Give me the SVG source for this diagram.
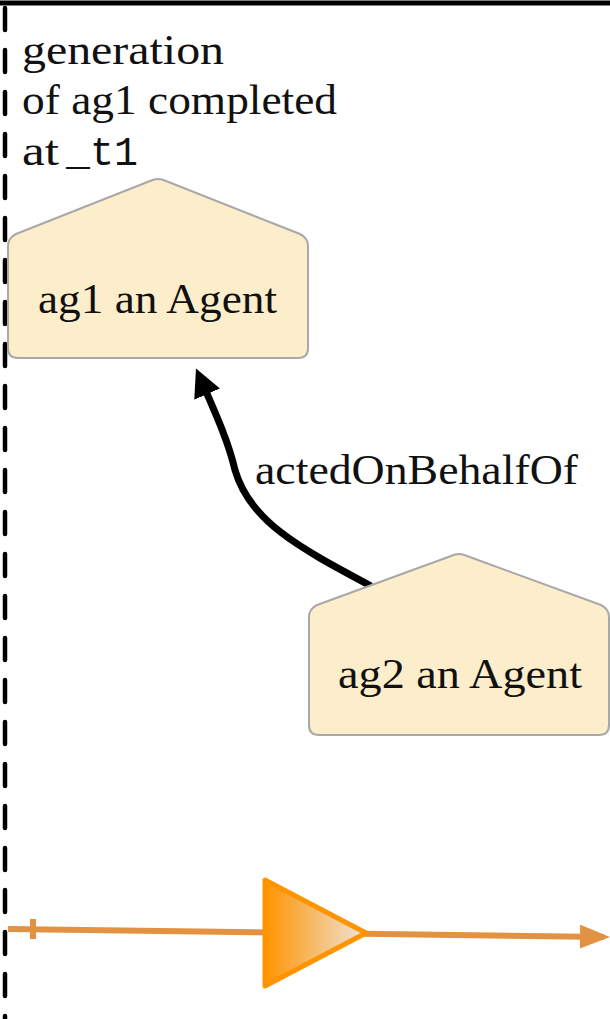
<svg xmlns="http://www.w3.org/2000/svg" width="610" height="1019" viewBox="0 0 610 1019">
<style>
.lbl{font-family:"Liberation Serif","DejaVu Serif",serif;font-size:42px;fill:#111}
.mono{font-family:"Liberation Mono","DejaVu Sans Mono",monospace;font-size:40px;fill:#111}
.agent{fill:#fdeecb;stroke:#a8a8a8;stroke-width:2;stroke-linejoin:round}
</style>
<defs>
<marker id="ah" markerWidth="4" markerHeight="4" refX="2.2" refY="2" orient="auto" markerUnits="strokeWidth" viewBox="0 0 4 4"><path d="M0,0 L4,2 L0,4 Z" fill="#000"/></marker>
<marker id="oh" markerWidth="5" markerHeight="4" refX="4" refY="2" orient="auto" markerUnits="strokeWidth" viewBox="0 0 5 4"><path d="M0,0 L5,2 L0,4 Z" fill="#e39142"/></marker>
<linearGradient id="tg" x1="0" y1="0" x2="1" y2="0"><stop offset="0" stop-color="#ff9400"/><stop offset="1" stop-color="#efe4da"/></linearGradient>
</defs>
<g id="frame">
<line x1="0" y1="3" x2="610" y2="3" stroke="#000" stroke-width="5"/>
<line x1="5" y1="8" x2="5" y2="1019" stroke="#000" stroke-width="4.5" stroke-dasharray="22,20" stroke-linecap="round"/>
</g>
<g id="note">
<text class="lbl" x="22" y="64" textLength="202" lengthAdjust="spacingAndGlyphs">generation</text>
<text class="lbl" x="22" y="114" textLength="315" lengthAdjust="spacingAndGlyphs">of ag1 completed</text>
<text class="lbl" x="22" y="165" textLength="37" lengthAdjust="spacingAndGlyphs">at</text>
<text class="mono" x="66" y="165">_t1</text>
</g>
<g id="connectors">
<path d="M371,586 C300,548 250,522 235,470 C228,440 214,410 201,380" fill="none" stroke="#000" stroke-width="7" marker-end="url(#ah)"/>
<text class="lbl" x="255" y="484" textLength="323" lengthAdjust="spacingAndGlyphs">actedOnBehalfOf</text>
</g>
<g id="ag1">
<path class="agent" d="M150,181 Q158,177 166,181 L300,234 Q308,238 308,246 L308,348 Q308,358 298,358 L18,358 Q8,358 8,348 L8,246 Q8,238 16,234 Z"/>
<text class="lbl" x="38" y="313" textLength="239" lengthAdjust="spacingAndGlyphs">ag1 an Agent</text>
</g>
<g id="ag2">
<path class="agent" d="M451,556 Q459,552 467,556 L601,605 Q609,609 609,617 L609,725 Q609,735 599,735 L319,735 Q309,735 309,725 L309,617 Q309,609 317,605 Z"/>
<text class="lbl" x="338" y="688" textLength="244" lengthAdjust="spacingAndGlyphs">ag2 an Agent</text>
</g>
<g id="timeline">
<line x1="8" y1="929" x2="604" y2="937" stroke="#e39142" stroke-width="6" marker-end="url(#oh)"/>
<line x1="33" y1="919" x2="33" y2="939" stroke="#e39142" stroke-width="6"/>
<path d="M265,880 L366,933 L265,986 Z" fill="url(#tg)" stroke="#ff9400" stroke-width="5" stroke-linejoin="round"/>
</g>
</svg>
